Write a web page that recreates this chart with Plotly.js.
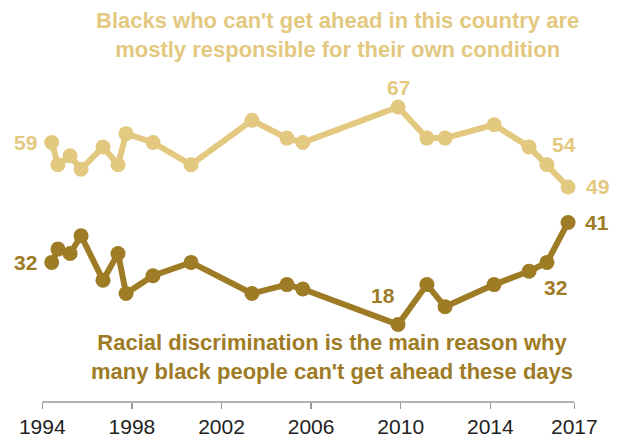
<!DOCTYPE html>
<html>
<head>
<meta charset="utf-8">
<script src="https://cdn.plot.ly/plotly-3.0.1.min.js"></script>
<style>html,body{margin:0;padding:0;background:#fff;}#chart{width:618px;height:447px;}</style>
</head>
<body>
<div id="chart"></div>
<script>
// Survey dates (decimal years)
const surveyDates = [1994.42, 1994.70, 1995.24, 1995.73, 1996.71, 1997.38, 1997.74, 1998.94, 2000.64, 2003.36, 2004.92, 2005.63, 2009.88, 2011.17, 2011.98, 2014.17, 2015.73, 2016.53, 2017.47];
// Blacks who can't get ahead are mostly responsible for their own condition
const ownCondition = [59, 54, 56, 53, 58, 54, 61, 59, 54, 64, 60, 59, 67, 60, 60, 63, 58, 54, 49];
// Racial discrimination is the main reason
const discrimination = [32, 35, 34, 38, 28, 34, 25, 29, 32, 25, 27, 26, 18, 27, 22, 27, 30, 32, 41];
const tickYears = [1994, 1998, 2002, 2006, 2010, 2014, 2017.75];
const tickLabels = ["1994", "1998", "2002", "2006", "2010", "2014", "2017"];

const light = "#E3C87F";
const dark = "#9E7B25";
const FONT = "'Liberation Sans Narrow', 'Arial Narrow', 'Liberation Sans', Arial, sans-serif";

const traces = [
  {x: surveyDates, y: ownCondition, mode: "lines+markers", type: "scatter",
   line: {color: light, width: 6}, marker: {color: light, size: 15}, hoverinfo: "skip"},
  {x: surveyDates, y: discrimination, mode: "lines+markers", type: "scatter",
   line: {color: dark, width: 6}, marker: {color: dark, size: 15}, hoverinfo: "skip"}
];

function lbl(i, arr, color, xs, ys) {
  return {x: surveyDates[i], y: arr[i], xref: "x", yref: "y", text: String(arr[i]),
    showarrow: false, xshift: xs, yshift: ys,
    font: {family: FONT, size: 21, color: color, weight: "bold"}};
}
const last = surveyDates.length - 1;
const annotations = [
  lbl(0, ownCondition, light, -26, 0),
  lbl(12, ownCondition, light, 0, 20),
  lbl(17, ownCondition, light, 17, 20),
  lbl(last, ownCondition, light, 29, 0),
  lbl(0, discrimination, dark, -26, 0),
  lbl(12, discrimination, dark, -15, 29),
  lbl(17, discrimination, dark, 9, -25),
  lbl(last, discrimination, dark, 29, 0),
  {xref: "paper", yref: "paper", x: 0.546, y: 0.913, yanchor: "middle", xanchor: "center",
   showarrow: false, align: "center",
   text: "<b>Blacks who can't get ahead in this country are<br>mostly responsible for their own condition</b>",
   font: {family: FONT, size: 22, color: light}},
  {xref: "paper", yref: "paper", x: 0.538, y: 0.113, yanchor: "middle", xanchor: "center",
   showarrow: false, align: "center",
   text: "<b>Racial discrimination is the main reason why<br>many black people can't get ahead these days</b>",
   font: {family: FONT, size: 22, color: dark}}
];

const layout = {
  width: 618, height: 447,
  margin: {l: 0, r: 0, t: 0, b: 45},
  paper_bgcolor: "#fff", plot_bgcolor: "#fff",
  showlegend: false,
  xaxis: {range: [1992.112, 2019.70], showgrid: false, zeroline: false, showline: false,
    tickmode: "array", tickvals: tickYears, ticktext: tickLabels,
    ticks: "outside", ticklen: 6, tickwidth: 1.5, tickcolor: "#999",
    tickfont: {family: "'Liberation Sans', Arial, sans-serif", size: 21, color: "#222"}},
  yaxis: {range: [0.56, 91.1], showgrid: false, zeroline: false, showline: false, showticklabels: false, ticks: ""},
  shapes: [{type: "line", xref: "x", yref: "paper", x0: tickYears[0], x1: tickYears[tickYears.length - 1], y0: 0, y1: 0,
    line: {color: "#999", width: 1.5}}],
  annotations: annotations
};

Plotly.newPlot("chart", traces, layout, {displayModeBar: false, staticPlot: true});
</script>
</body>
</html>
